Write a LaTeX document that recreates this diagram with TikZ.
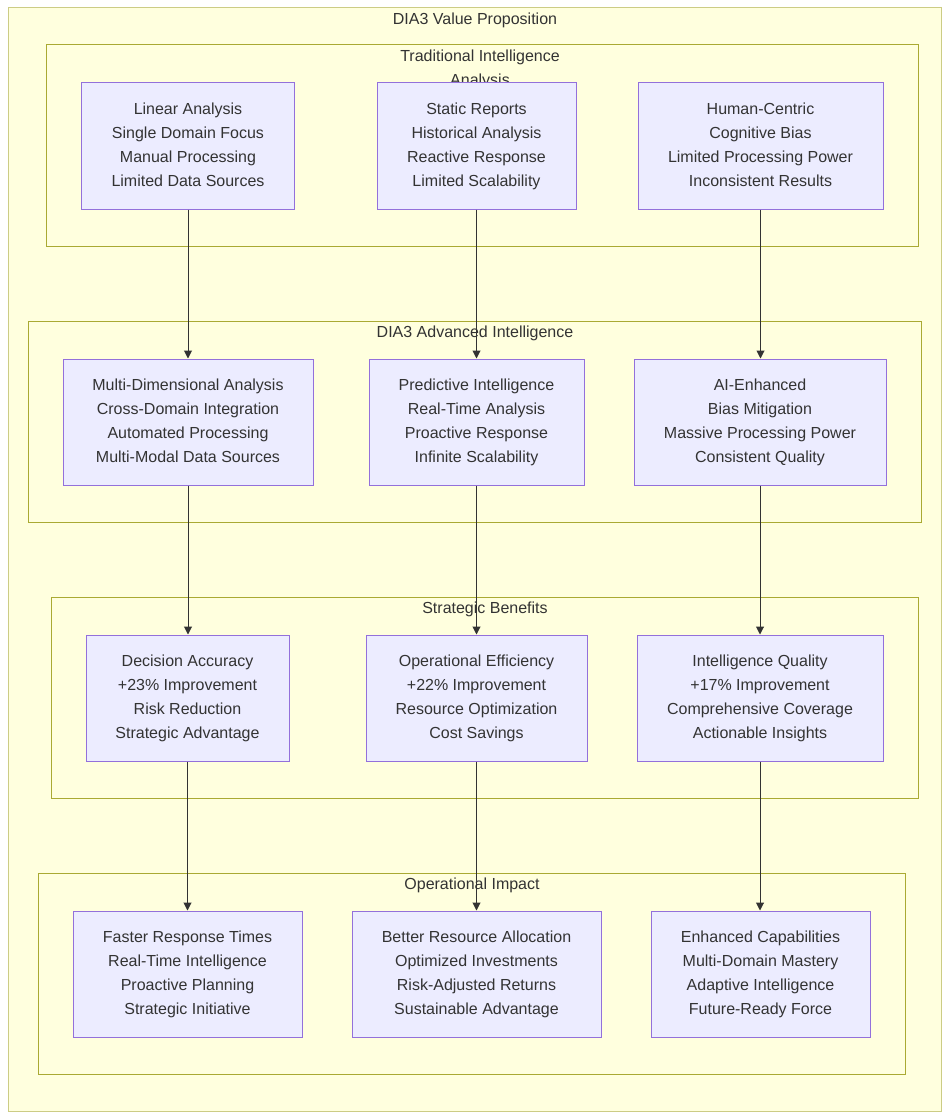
\documentclass[tikz,border=0pt]{standalone}
\usepackage{fontspec}
\setmainfont{Liberation Sans}
\usetikzlibrary{arrows.meta}
\definecolor{clfill}{HTML}{FFFFDE}
\definecolor{clline}{HTML}{AAAA33}
\definecolor{ndfill}{HTML}{ECECFF}
\definecolor{ndline}{HTML}{9370DB}
\definecolor{txt}{HTML}{333333}
\newcommand{\tp}{\rule{0pt}{12.6pt}}
\tikzset{
  cluster/.style={draw=clline, fill=clfill, line width=0.75pt},
  outercl/.style={draw=clline!60!white, fill=clfill, line width=0.75pt},
  ctitle/.style={text=txt, font=\fontsize{12}{18}\selectfont, align=center, inner sep=0pt},
  box/.style={draw=ndline, fill=ndfill, line width=0.75pt, text=txt,
    font=\fontsize{12}{18}\selectfont, align=center, minimum height=94.5pt, inner sep=0pt,
    execute at end node=\strut},
  arr/.style={draw=txt, line width=0.75pt, -{Triangle[length=6pt,width=6pt]}}
}
\begin{document}
\begin{tikzpicture}[x=0.75pt,y=-0.75pt]
\useasboundingbox (0,0) rectangle (950,1120);
% outer
\draw[outercl] (8,8) rectangle (941,1111);
\node[ctitle] (t0) at (475,20.5) {DIA3 Value Proposition};
% cluster 1
\draw[cluster] (46,45) rectangle (918,246);
\node[ctitle] (t1) at (480,69.5) {Traditional Intelligence\\Analysis};
\node[box, minimum width=159.75pt] (a1) at (188,146) {\tp Linear Analysis\\Single Domain Focus\\Manual Processing\\Limited Data Sources};
\node[box, minimum width=149.25pt] (a2) at (476.5,146) {\tp Static Reports\\Historical Analysis\\Reactive Response\\Limited Scalability};
\node[box, minimum width=183.75pt] (a3) at (760.5,146) {\tp Human-Centric\\Cognitive Bias\\Limited Processing Power\\Inconsistent Results};
% cluster 2
\draw[cluster] (28,321) rectangle (921,522);
\node[ctitle] (t2) at (475,333.5) {DIA3 Advanced Intelligence};
\node[box, minimum width=187.5pt] (b1) at (188,422) {\tp Multi-Dimensional Analysis\\Cross-Domain Integration\\Automated Processing\\Multi-Modal Data Sources};
\node[box, minimum width=161.25pt] (b2) at (476.5,422) {\tp Predictive Intelligence\\Real-Time Analysis\\Proactive Response\\Infinite Scalability};
\node[box, minimum width=189pt] (b3) at (760,422) {\tp AI-Enhanced\\Bias Mitigation\\Massive Processing Power\\Consistent Quality};
% cluster 3
\draw[cluster] (51,597) rectangle (918,798);
\node[ctitle] (t3) at (485,609.5) {Strategic Benefits};
\node[box, minimum width=152.25pt] (c1) at (187.5,698) {\tp Decision Accuracy\\+23\% Improvement\\Risk Reduction\\Strategic Advantage};
\node[box, minimum width=165.75pt] (c2) at (476.5,698) {\tp Operational Efficiency\\+22\% Improvement\\Resource Optimization\\Cost Savings};
\node[box, minimum width=184.5pt] (c3) at (760,698) {\tp Intelligence Quality\\+17\% Improvement\\Comprehensive Coverage\\Actionable Insights};
% cluster 4
\draw[cluster] (38,873) rectangle (905,1074);
\node[ctitle] (t4) at (472,885.5) {Operational Impact};
\node[box, minimum width=171.75pt] (d1) at (187.5,974) {\tp Faster Response Times\\Real-Time Intelligence\\Proactive Planning\\Strategic Initiative};
\node[box, minimum width=186.75pt] (d2) at (476.5,974) {\tp Better Resource Allocation\\Optimized Investments\\Risk-Adjusted Returns\\Sustainable Advantage};
\node[box, minimum width=164.25pt] (d3) at (760.5,974) {\tp Enhanced Capabilities\\Multi-Domain Mastery\\Adaptive Intelligence\\Future-Ready Force};
% arrows
\draw[arr] (a1.south) -- (a1.south |- b1.north);
\draw[arr] (a2.south) -- (a2.south |- b2.north);
\draw[arr] (a3.south) -- (a3.south |- b3.north);
\draw[arr] (b1.south) -- (b1.south |- c1.north);
\draw[arr] (b2.south) -- (b2.south |- c2.north);
\draw[arr] (b3.south) -- (b3.south |- c3.north);
\draw[arr] (c1.south) -- (c1.south |- d1.north);
\draw[arr] (c2.south) -- (c2.south |- d2.north);
\draw[arr] (c3.south) -- (c3.south |- d3.north);
\end{tikzpicture}
\end{document}
